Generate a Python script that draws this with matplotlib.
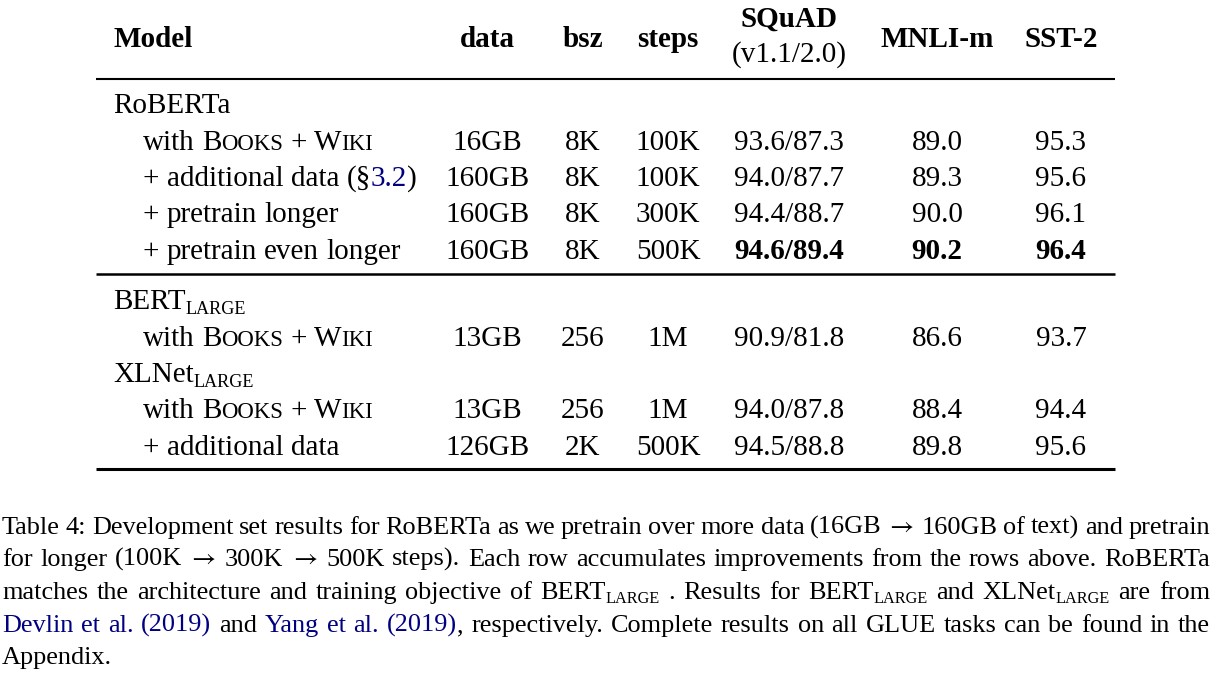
import matplotlib
matplotlib.use('Agg')
import matplotlib.pyplot as plt

plt.rcParams['font.family'] = ['Liberation Serif', 'DejaVu Serif']

# markup: {..} small caps tail, _{..} subscript, <..> link colour
columns = ['data', 'bsz', 'steps', 'SQuAD', 'MNLI-m', 'SST-2']
squad_sub = '(v1.1/2.0)'

roberta_labels = ['with B{OOKS} + W{IKI}', '+ additional data (§<3.2>)',
                  '+ pretrain longer', '+ pretrain even longer']
roberta_data = ['16GB', '160GB', '160GB', '160GB']
roberta_bsz = ['8K', '8K', '8K', '8K']
roberta_steps = ['100K', '100K', '300K', '500K']
roberta_squad = ['93.6/87.3', '94.0/87.7', '94.4/88.7', '94.6/89.4']
roberta_mnli = ['89.0', '89.3', '90.0', '90.2']
roberta_sst2 = ['95.3', '95.6', '96.1', '96.4']
roberta_best = 3  # row shown in bold

bert_labels = ['with B{OOKS} + W{IKI}']
bert_data = ['13GB']
bert_bsz = ['256']
bert_steps = ['1M']
bert_squad = ['90.9/81.8']
bert_mnli = ['86.6']
bert_sst2 = ['93.7']

xlnet_labels = ['with B{OOKS} + W{IKI}', '+ additional data']
xlnet_data = ['13GB', '126GB']
xlnet_bsz = ['256', '2K']
xlnet_steps = ['1M', '500K']
xlnet_squad = ['94.0/87.8', '94.5/88.8']
xlnet_mnli = ['88.4', '89.8']
xlnet_sst2 = ['94.4', '95.6']

caption = [
    'Table 4: Development set results for RoBERTa as we pretrain over more data (16GB → 160GB of text) and pretrain',
    'for longer (100K → 300K → 500K steps). Each row accumulates improvements from the rows above. RoBERTa',
    'matches the architecture and training objective of BERT_{LARGE} . Results for BERT_{LARGE} and XLNet_{LARGE} are from',
    '<Devlin et al. (2019)> and <Yang et al. (2019)>, respectively. Complete results on all GLUE tasks can be found in the',
    'Appendix.',
]

# layout (pixels)
FS_TABLE = 21
FS_CAPTION = 18.95
ARROW_PAD = 2
LINK = '#000080'
col_x = [487, 583, 668, 789, 937, 1061]
label_x, indent_x = 113, 143

fig = plt.figure(figsize=(12.14, 6.73), dpi=100)
ax = fig.add_axes([0, 0, 1, 1])
ax.set_xlim(0, 1214)
ax.set_ylim(673, 0)
ax.axis('off')
renderer = fig.canvas.get_renderer()


def parse(s, bold=False):
    chars = []
    blue = sc = sub = False
    i = 0
    while i < len(s):
        c = s[i]
        if c == '<':
            blue = True
        elif c == '>':
            blue = False
        elif s.startswith('_{', i):
            sub = True
            i += 1
        elif c == '{':
            sc = True
        elif c == '}':
            sc = sub = False
        else:
            chars.append((c, (bold, blue, sc, sub)))
        i += 1
    words = [[]]
    for c, st in chars:
        if c == ' ':
            if words[-1]:
                words.append([])
        elif words[-1] and words[-1][-1][1] == st:
            words[-1][-1] = (words[-1][-1][0] + c, st)
        else:
            words[-1].append((c, st))
    return [w for w in words if w]


def props(txt, st, fs):
    bold, blue, sc, sub = st
    size = fs * 0.62 if sub else (fs * 0.78 if sc else fs)
    kw = dict(fontsize=size, fontweight='bold' if bold else 'normal',
              color=LINK if blue else 'black')
    if txt == '→':
        kw['family'] = ['STIXGeneral', 'DejaVu Sans']
    return kw, (round(fs * 0.22) if sub else 0)


def text_width(txt, st, fs):
    kw, _ = props(txt, st, fs)
    t = ax.text(0, 0, txt, **kw)
    w = t.get_window_extent(renderer).width
    t.remove()
    if txt == '→':
        w += 2 * ARROW_PAD
    return w


def word_width(word, fs):
    return sum(text_width(txt, st, fs) for txt, st in word)


def draw_line(x, y, s, ha='left', bold=False, right=None, fs=FS_TABLE):
    words = parse(s, bold)
    widths = [word_width(w, fs) for w in words]
    base = (bold, False, False, False)
    gap = text_width('x x', base, fs) - text_width('xx', base, fs)
    if right is not None and len(words) > 1:
        gap = (right - x - sum(widths)) / (len(words) - 1)
    total = sum(widths) + gap * (len(words) - 1)
    if ha == 'center':
        x -= total / 2
    for word, w in zip(words, widths):
        cx = x
        for txt, st in word:
            kw, dy = props(txt, st, fs)
            pad = ARROW_PAD if txt == '→' else 0
            ax.text(cx + pad, y + dy, txt, va='baseline', ha='left', **kw)
            cx += text_width(txt, st, fs)
        x += w + gap


# header
draw_line(label_x, 47, 'Model', bold=True)
for cx, name in zip(col_x, columns):
    if name == 'SQuAD':
        draw_line(cx, 27, name, ha='center', bold=True)
        draw_line(cx, 62, squad_sub, ha='center')
    else:
        draw_line(cx, 47, name, ha='center', bold=True)


def draw_block(y0, title, labels, cols, best=None):
    draw_line(label_x, y0, title)
    for i, lab in enumerate(labels):
        y = round(y0 + 36.5 * (i + 1))
        draw_line(indent_x, y, lab)
        for j, (cx, vals) in enumerate(zip(col_x, cols)):
            draw_line(cx, y, vals[i], ha='center', bold=(i == best and j >= 3))


draw_block(113, 'RoBERTa', roberta_labels,
           [roberta_data, roberta_bsz, roberta_steps, roberta_squad, roberta_mnli, roberta_sst2],
           best=roberta_best)
draw_block(309, 'BERT_{LARGE}', bert_labels,
           [bert_data, bert_bsz, bert_steps, bert_squad, bert_mnli, bert_sst2])
draw_block(382, 'XLNet_{LARGE}', xlnet_labels,
           [xlnet_data, xlnet_bsz, xlnet_steps, xlnet_squad, xlnet_mnli, xlnet_sst2])

# rules
for y, lw in [(79, 1.5), (274, 1.8), (469, 2.2)]:
    ax.plot([96, 1115], [y, y], color='black', lw=lw, solid_capstyle='butt')

# caption, justified
for k, line in enumerate(caption):
    y = round(534 + 32.5 * k)
    last = k == len(caption) - 1
    draw_line(2, y, line, right=None if last else 1210, fs=FS_CAPTION)

fig.savefig('out.png', dpi=100)
